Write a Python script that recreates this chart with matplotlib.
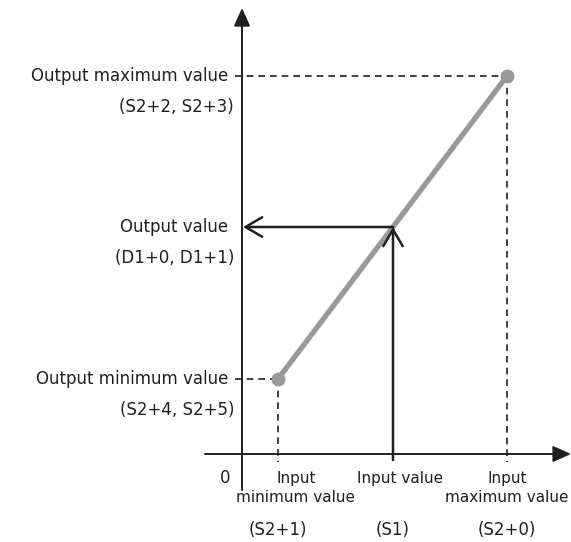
import matplotlib
matplotlib.use('Agg')
from matplotlib import pyplot as plt

# input / output positions (arbitrary units, origin at 0)
inputPoints = [36, 151, 265]          # min, value, max
outputPoints = [75, 227, 378]         # min, value, max
leftLabels = ['Output maximum value', 'Output value', 'Output minimum value']
leftRegs = ['(S2+2, S2+3)', '(D1+0, D1+1)', '(S2+4, S2+5)']
bottomTop = ['Input', 'Input value', 'Input']
bottomSub = ['minimum value', '', 'maximum value']
bottomRegs = ['(S2+1)', '(S1)', '(S2+0)']

FONT = 'DejaVu Sans'
INK = '#231f20'


def main():
    fig = plt.figure(figsize=(5.71, 5.42), dpi=100)
    ax = fig.add_axes([0, 0, 1, 1])
    ax.set_xlim(-242, 329)
    ax.set_ylim(-88, 454)
    ax.axis('off')

    inMin, inVal, inMax = inputPoints
    outMin, outVal, outMax = outputPoints

    # axes with filled arrow heads
    axisArrow = dict(arrowstyle='-|>,head_length=1.0,head_width=0.45',
                     color=INK, lw=1.4, mutation_scale=11, shrinkA=0, shrinkB=0)
    ax.annotate('', xy=(0, 446), xytext=(0, -36), arrowprops=axisArrow)
    ax.annotate('', xy=(329, 0), xytext=(-37, 0), arrowprops=axisArrow)

    # dashed guide lines
    dash = dict(color=INK, lw=1.2, linestyle=(0, (4, 3)))
    ax.plot([-7, inMax], [outMax, outMax], **dash)
    ax.plot([inMax, inMax], [outMax, -8], **dash)
    ax.plot([-7, inMin], [outMin, outMin], **dash)
    ax.plot([inMin, inMin], [outMin, -8], **dash)

    # transfer line
    ax.plot([inMin, inMax], [outMin, outMax], color='#999999', lw=3.8, solid_capstyle='round')
    ax.plot([inMin, inMax], [outMin, outMax], 'o', color='#999999', ms=9)

    # input value -> output value
    openArrow = dict(arrowstyle='->,head_length=0.6,head_width=0.35',
                     color=INK, lw=1.8, mutation_scale=20, shrinkA=0, shrinkB=0)
    ax.annotate('', xy=(inVal, outVal), xytext=(inVal, -6), arrowprops=openArrow)
    ax.annotate('', xy=(1, outVal), xytext=(inVal, outVal), arrowprops=openArrow)

    # left labels
    for y, lab, reg in zip([outMax, outVal, outMin], leftLabels, leftRegs):
        ax.text(-14, y, lab, ha='right', va='center', fontsize=12,
                family=FONT, color=INK)
        ax.text(-8, y - 31, reg, ha='right', va='center', fontsize=12,
                family=FONT, color=INK)

    # bottom labels
    ax.text(-17, -24, '0', ha='center', va='center', fontsize=12, family=FONT, color=INK)
    offsets = [18, 7, 0]
    for x, dx, top, sub, reg in zip(inputPoints, offsets, bottomTop, bottomSub, bottomRegs):
        ax.text(x + dx, -24, top, ha='center', va='center', fontsize=11,
                family=FONT, color=INK)
        if sub:
            ax.text(x + dx, -44, sub, ha='center', va='center', fontsize=11,
                    family=FONT, color=INK)
        ax.text(x, -76, reg, ha='center', va='center', fontsize=12,
                family=FONT, color=INK)

    fig.savefig('out.png', dpi=100)


if __name__ == '__main__':
    main()
